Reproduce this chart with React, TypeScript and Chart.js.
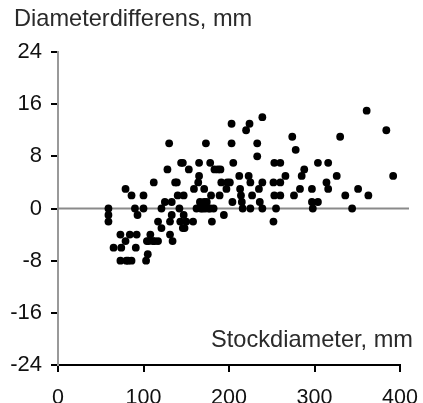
import React, { useEffect, useRef } from "react";
import { Chart, registerables } from "chart.js";

Chart.register(...registerables);

const yTitle = "Diameterdifferens, mm";
const xTitle = "Stockdiameter, mm";
const yTicks = [-24, -16, -8, 0, 8, 16, 24];
const xTicks = [0, 100, 200, 300, 400];

const stemDiameter = [
  59, 59, 59, 65, 74, 73, 73, 79, 79, 84, 82, 86, 86, 90, 92, 91, 93, 100, 100, 103,
  105, 104, 108, 111, 112, 117, 117, 121, 121, 125, 128, 130, 131, 131, 133, 133, 134, 139, 140, 142,
  143, 144, 146, 147, 147, 148, 150, 153, 158, 159, 162, 165, 165, 164, 166, 169, 171, 173, 174, 176,
  178, 179, 180, 182, 183, 189, 190, 191, 194, 197, 198, 201, 203, 203, 204, 205, 212, 213, 214, 216,
  220, 224, 223, 225, 225, 227, 233, 233, 235, 236, 239, 239, 239, 252, 252, 253, 253, 255, 260, 260,
  260, 266, 274, 278, 276, 283, 288, 297, 297, 298, 304, 304, 314, 316, 316, 326, 330, 336, 344, 351,
  361, 363, 384, 392,
  146, 167, 171, 178, 172, 215, 137, 285, 187, 80, 113, 106
];
const diameterDiff = [
  0, -1, -2, -6, -6, -4, -8, 3, -5, -4, -8, -8, 2, 0, -4, -6, -1, 2, 0, -8,
  -7, -5, -4, -5, 4, -5, -2, 0, -3, 1, 6, 10, -2, -4, -1, 1, -5, 4, 2, 0,
  -2, 7, -3, -1, 2, -3, -2, 6, -2, 3, 0, 7, 5, 4, 1, 0, 3, 10, 1, 0,
  7, 2, -2, 0, 6, 2, 6, 4, -1, 3, 4, 4, 13, 10, 1, 7, 5, 3, 2, 0,
  12, 13, 5, 4, 0, 2, 10, 8, 3, 1, 14, 4, 0, -2, 4, 7, 2, 0, 2, 4,
  7, 5, 11, 9, 2, 3, 6, 3, 1, 0, 7, 1, 4, 3, 7, 5, 11, 2, 0, 3,
  15, 2, 12, 5,
  7, 0, 1, 0, 0, 1, 4, 5, 6, -8, -5, -5
];

const FONT = '"Liberation Sans", Arial, Helvetica, sans-serif';

const labelsPlugin = {
  id: "labels",
  beforeDatasetsDraw(chart: any) {
    const { ctx, chartArea, scales } = chart;
    const y0 = scales.y.getPixelForValue(0);
    ctx.save();
    ctx.strokeStyle = "#8a8a8a";
    ctx.lineWidth = 2;
    ctx.beginPath();
    ctx.moveTo(chartArea.left, y0);
    ctx.lineTo(chartArea.right + 9, y0);
    ctx.stroke();
    ctx.restore();
  },
  afterDraw(chart: any) {
    const { ctx, chartArea } = chart;
    ctx.save();
    ctx.fillStyle = "#2a2a2a";
    ctx.font = `23.6px ${FONT}`;
    ctx.textBaseline = "alphabetic";
    ctx.textAlign = "left";
    ctx.fillText(yTitle, 14, 26);
    ctx.textAlign = "right";
    ctx.fillText(xTitle, chartArea.right + 13, chartArea.bottom - 18);
    ctx.restore();
  },
};

export default function App() {
  const ref = useRef<HTMLCanvasElement | null>(null);
  useEffect(() => {
    if (!ref.current) return;
    const chart = new Chart(ref.current, {
      type: "scatter",
      data: {
        datasets: [
          {
            data: stemDiameter.map((x, i) => ({ x, y: diameterDiff[i] })),
            backgroundColor: "#000",
            borderWidth: 0,
            pointRadius: 3.9,
            pointHoverRadius: 3.9,
          },
        ],
      },
      options: {
        animation: false,
        responsive: false,
        maintainAspectRatio: false,
        layout: { padding: { top: 52, right: 23, left: 0, bottom: 0 } },
        plugins: { legend: { display: false }, tooltip: { enabled: false }, title: { display: false } },
        scales: {
          x: {
            type: "linear",
            min: 0,
            max: 400,
            afterBuildTicks: (s: any) => {
              s.ticks = xTicks.map((v) => ({ value: v }));
            },
            afterFit: (s: any) => {
              s.height = 38;
              s.paddingLeft = 0;
              s.paddingRight = 0;
            },
            grid: { drawOnChartArea: false, drawTicks: true, tickLength: 7, color: "#000", lineWidth: 2 },
            border: { color: "#000", width: 2 },
            ticks: { color: "#111", font: { family: FONT, size: 21.5 }, padding: 13, maxRotation: 0 },
          },
          y: {
            type: "linear",
            min: -24,
            max: 24,
            afterBuildTicks: (s: any) => {
              s.ticks = yTicks.map((v) => ({ value: v }));
            },
            afterFit: (s: any) => {
              s.width = 58;
              s.paddingTop = 0;
              s.paddingBottom = 0;
            },
            grid: { drawOnChartArea: false, drawTicks: true, tickLength: 7, color: "#000", lineWidth: 2 },
            border: { color: "#999", width: 2 },
            ticks: { color: "#111", font: { family: FONT, size: 22 }, padding: 9 },
          },
        },
      },
      plugins: [labelsPlugin],
    });
    return () => chart.destroy();
  }, []);
  return (
    <div style={{ position: "fixed", left: 0, top: 0, width: 423, height: 403, background: "#fff" }}>
      <canvas ref={ref} width={423} height={403} style={{ width: 423, height: 403 }} />
    </div>
  );
}
